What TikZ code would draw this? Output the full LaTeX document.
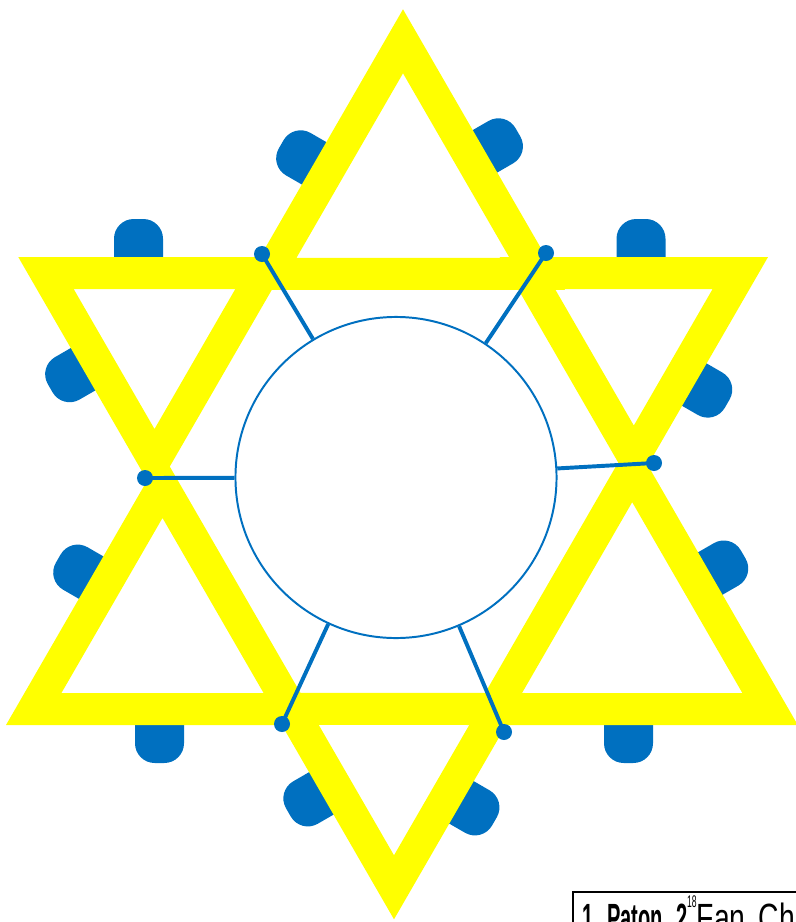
\documentclass[tikz,border=0pt]{standalone}
\usepackage{fontspec}
\usetikzlibrary{calc}
\newfontfamily\tagfont[FakeStretch=0.51]{Liberation Sans}
\newfontfamily\tagfontwide[FakeStretch=0.72]{Liberation Sans}
\definecolor{staryellow}{HTML}{FFFF00}
\definecolor{seatblue}{HTML}{0070C0}

\begin{document}
\begin{tikzpicture}[
    x=0.025cm, y=-0.025cm,
    star/.style={fill=staryellow, even odd rule},
    seat/.pic={\fill[seatblue, rounded corners=14pt] (-22,-24.5) -- (38,-24.5) -- (38,24.5) -- (-22,24.5) -- cycle;},
    hub/.style={circle, draw=seatblue, line width=1.4pt, fill=white, minimum size=8.025cm, inner sep=0pt},
    joint/.style={circle, fill=seatblue, minimum size=0.4cm, inner sep=0pt},
    spoke/.style={draw=seatblue, line width=2.8pt},
    tag/.style={draw, line width=1.4pt, inner xsep=7pt, inner ysep=3pt, text width=10cm, align=left,
        font=\tagfont\fontsize{28}{30}\selectfont}
]
\useasboundingbox (0,0) rectangle (796,922);
\clip (0,0) rectangle (796,922);
\foreach \px/\py/\ang in {314.1/163.3/150, 485/151.3/30, 138.5/257/90, 83.1/369.2/210,
    641/257/90, 694.3/384.6/-30, 91.15/577.6/150, 159.5/725/270,
    710.3/573.5/30, 628.5/725/270, 321.3/793.4/210, 461.5/802.4/-30}
  \pic[rotate=\ang] at (\px,\py) {seat};
\foreach \cx/\cy/\rad/\a in {403/196.3/187/-90, 154.5/335.7/157.3/90, 633.8/334.5/155/90,
    162.5/634.65/180.7/-90, 632.2/629.4/191.2/-90, 394/768.4/150.9/90}
  \fill[star, shift={(\cx,\cy)}] (\a:\rad) -- ({\a+120}:\rad) -- ({\a+240}:\rad) -- cycle
    (\a:{\rad-64}) -- ({\a+120}:{\rad-64}) -- ({\a+240}:{\rad-64}) -- cycle;
\node[hub] (hub) at (396,477.5) {};
\foreach \n/\jx/\jy in {1/262/254, 2/546/253, 3/145/478, 4/654/463, 5/282/724, 6/504/732} {
  \node[joint] (j\n) at (\jx,\jy) {};
  \draw[spoke] (j\n.center) -- (hub);
}
\node[tag, anchor=north west] (tag) at (572,891)
  {\textbf{1 Paton 2}\raisebox{0.6em}{\fontsize{12}{12}\selectfont 18}{\tagfontwide Fan Ch}};
\end{tikzpicture}
\end{document}
